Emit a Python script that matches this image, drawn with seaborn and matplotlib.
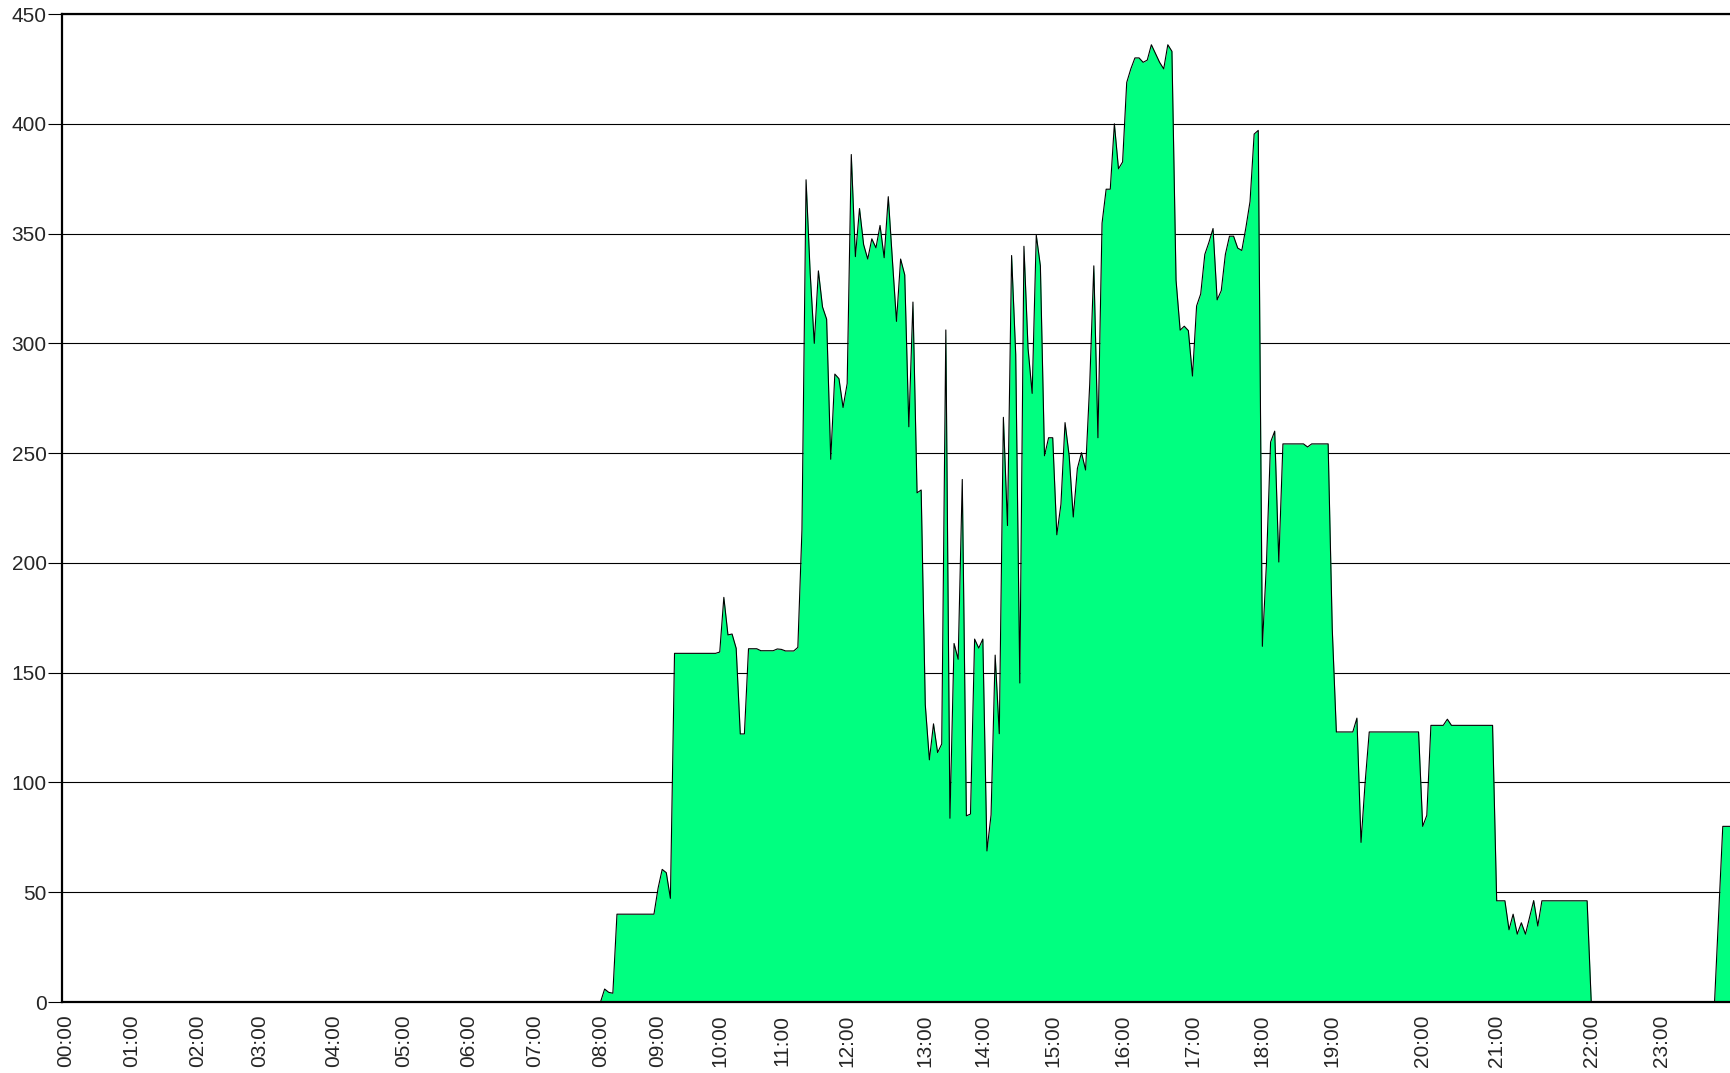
import matplotlib
matplotlib.use("Agg")
import pandas as pd
import seaborn as sns
import matplotlib.pyplot as plt

# sample number (x) and load value (y) at every vertex of the trace
sample_idx = [0, 131, 132, 133, 134, 135, 144, 145, 146, 147, 148, 149, 159, 160, 161, 162, 163, 164,
              165, 166, 167, 169, 170, 173, 174, 175, 176, 178, 179, 180, 181, 182, 183, 184, 185, 186,
              187, 188, 189, 190, 191, 192, 193, 194, 195, 196, 197, 198, 199, 200, 201, 202, 203, 204,
              205, 206, 207, 208, 209, 210, 211, 212, 213, 214, 215, 216, 217, 218, 219, 220, 221, 222,
              223, 224, 225, 226, 227, 228, 229, 230, 231, 232, 233, 234, 235, 236, 237, 238, 239, 240,
              241, 242, 243, 244, 245, 246, 247, 248, 249, 250, 251, 252, 253, 254, 255, 256, 257, 258,
              259, 260, 261, 262, 263, 264, 265, 266, 267, 268, 269, 270, 271, 272, 273, 274, 275, 276,
              277, 278, 279, 280, 281, 282, 283, 284, 285, 286, 287, 288, 289, 290, 291, 292, 293, 294,
              295, 296, 297, 302, 303, 304, 308, 309, 310, 314, 315, 316, 317, 318, 330, 331, 332, 333,
              336, 337, 338, 348, 349, 351, 352, 353, 354, 355, 356, 358, 359, 360, 371, 372, 402, 404,
              406]
values = [0, 0, 5.9, 4.4, 4.0, 40, 40, 51.8, 60.4, 58.9, 47.2, 158.8, 158.8, 159.4, 184.3, 167.2, 167.6, 161.1,
          122.1, 122.1, 160.9, 160.9, 160, 160, 160.8, 160.6, 159.9, 159.9, 161.5, 215, 374.5, 332, 300, 333, 316.6, 311,
          247.2, 286, 283.9, 270.8, 281.7, 386, 339.5, 361.4, 345, 338.4, 347.6, 343.5, 353.7, 339, 366.8, 338, 310, 338.4,
          331.2, 262, 318.8, 231.9, 233.2, 135.4, 110.3, 126.7, 113.6, 117.5, 306.1, 83.7, 163.3, 156.1, 238, 84.8, 85.6, 165.3,
          161.2, 165.3, 68.8, 85.2, 158, 122.2, 266.3, 217, 340, 295, 145.3, 344.2, 297.7, 277.2, 349.3, 335.3, 248.8, 257,
          257, 212.8, 226.7, 263.9, 248.8, 220.9, 243, 250.2, 242.3, 281.4, 335.3, 257, 354.7, 370.2, 370.2, 400, 379.5, 382.6,
          418.8, 425, 430, 430, 428, 429, 436, 432, 428, 425, 436, 433, 328.8, 306, 307.8, 305.8, 285.1, 317,
          322.5, 340.5, 346, 352.3, 319.8, 324, 340.5, 348.8, 348.8, 343.4, 342.3, 352.8, 364.6, 395.3, 397, 162, 200, 255,
          260, 200.4, 254.2, 254.2, 252.8, 254.2, 254.2, 170, 123, 123, 129.3, 72.7, 100, 123, 123, 80, 85, 126,
          126, 128.8, 126, 126, 46.1, 46.1, 32.9, 40, 30.9, 36.1, 30.9, 46.2, 34.6, 46.1, 46.1, 0, 0, 80,
          80]

hour_labels = ["00:00", "01:00", "02:00", "03:00", "04:00", "05:00", "06:00", "07:00",
               "08:00", "09:00", "10:00", "11:00", "12:00", "13:00", "14:00", "15:00",
               "16:00", "17:00", "18:00", "19:00", "20:00", "21:00", "22:00", "23:00"]
hour_idx = [1, 17, 33, 48, 66, 83, 99, 115, 131, 145, 160, 175, 191, 210, 224, 241,
            258, 275, 292, 309, 331, 349, 372, 389]

df = pd.DataFrame({"sample": sample_idx, "value": values})

sns.set_style("white")
plt.rcParams["font.family"] = ["Liberation Sans", "DejaVu Sans"]

fig = plt.figure(figsize=(17.31, 10.73), dpi=100)
ax = fig.add_axes([62 / 1731, 71 / 1073, 1669 / 1731, 988 / 1073])

ax.fill_between(df["sample"], df["value"], 0, color="#00ff80", lw=0, zorder=2)
sns.lineplot(data=df, x="sample", y="value", estimator=None, color="black", lw=0.8, ax=ax, zorder=3)

ax.set_xlim(0, 406)
ax.set_ylim(0, 450)
ax.set_yticks(range(0, 451, 50))
ax.set_xticks(hour_idx)
ax.set_xticklabels(hour_labels, rotation=90)
ax.set_xlabel("")
ax.set_ylabel("")

ax.yaxis.grid(True, color="black", lw=0.8)
ax.xaxis.grid(False)
ax.set_axisbelow(True)

for side in ["left", "top", "bottom"]:
    ax.spines[side].set_color("black")
    ax.spines[side].set_linewidth(1.6)
    ax.spines[side].set_zorder(5)
ax.spines["right"].set_visible(False)

ax.tick_params(axis="y", length=10, width=0.8, color="black", pad=1, labelsize=15, left=True)
ax.tick_params(axis="x", length=0, pad=9, labelsize=15)

fig.savefig("out.png", dpi=100)
